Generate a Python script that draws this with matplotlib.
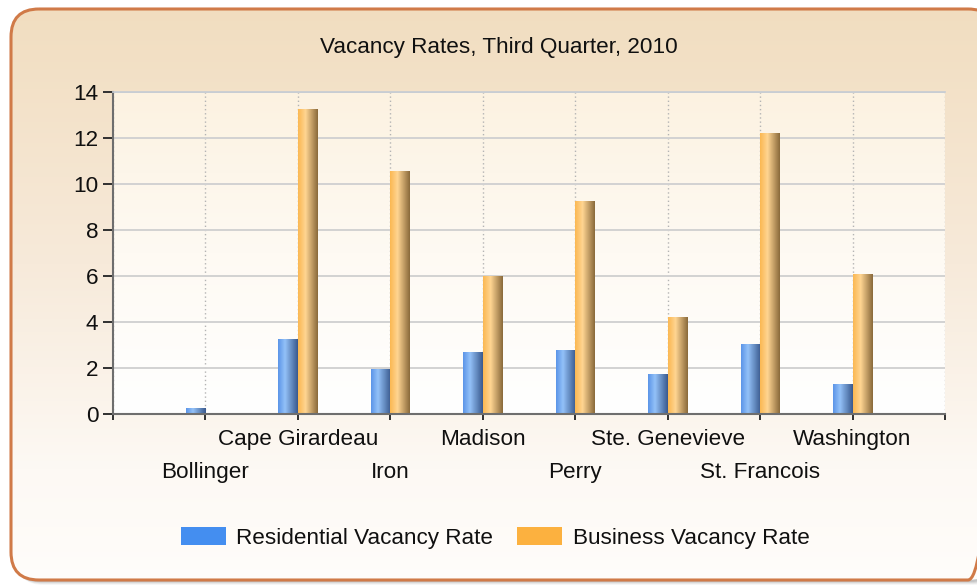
import numpy as np
import matplotlib
matplotlib.use('Agg')
import matplotlib.pyplot as plt
from matplotlib.patches import FancyBboxPatch, Patch
from matplotlib.colors import LinearSegmentedColormap

categories = ['Bollinger', 'Cape Girardeau', 'Iron', 'Madison', 'Perry',
              'Ste. Genevieve', 'St. Francois', 'Washington']
residential = [0.25, 3.25, 1.95, 2.7, 2.8, 1.75, 3.05, 1.3]
business = [0.0, 13.25, 10.55, 6.0, 9.25, 4.2, 12.2, 6.1]
series_names = ['Residential Vacancy Rate', 'Business Vacancy Rate']
title = 'Vacancy Rates, Third Quarter, 2010'
yticks = [0, 2, 4, 6, 8, 10, 12, 14]

plt.rcParams['font.family'] = ['Liberation Sans', 'DejaVu Sans']
FS = 16.2
TXT = '#101010'

W, H = 977, 587
fig = plt.figure(figsize=(W / 100, H / 100), dpi=100, facecolor='white')


def vgrad(colors, n=256):
    cmap = LinearSegmentedColormap.from_list('g', colors)
    return cmap(np.linspace(0, 1, n))[:, None, :3]


# ---- background frame ----
bg = fig.add_axes([0, 0, 1, 1], zorder=0)
bg.set_xlim(0, W)
bg.set_ylim(H, 0)
bg.axis('off')
for off, a in [(5, 0.06), (4, 0.10), (3, 0.14), (2, 0.18)]:
    bg.add_patch(FancyBboxPatch((11 + off, 9 + off), 985, 571,
                                boxstyle='round,pad=0,rounding_size=28',
                                fc='#707070', ec='none', alpha=a))
frame = FancyBboxPatch((11, 9), 985, 571, boxstyle='round,pad=0,rounding_size=28',
                       fc='none', ec='#d07a48', lw=2.2, zorder=3)
fill = FancyBboxPatch((11, 9), 985, 571, boxstyle='round,pad=0,rounding_size=28',
                      fc='none', ec='none')
bg.add_patch(fill)
im = bg.imshow(vgrad([(0, '#f1ddbf'), (0.45, '#f7eada'), (0.8, '#fdf9f4'), (1, '#fffdfb')]),
               extent=[0, W, H, 0], aspect='auto', zorder=1)
im.set_clip_path(fill)
bg.add_patch(frame)

# ---- main axes ----
ax = fig.add_axes([113 / W, 1 - 414 / H, 832 / W, 322 / H], zorder=2)
ax.patch.set_visible(False)
ax.imshow(vgrad(['#fcf2e1', '#fefaf3', '#ffffff']), extent=[0, 1, 0, 1],
          transform=ax.transAxes, aspect='auto', zorder=0)

x = np.arange(1, len(categories) + 1)
bw = 0.21
bars_r = ax.bar(x - bw / 2, residential, bw, color='none', edgecolor='none', zorder=2)
bars_b = ax.bar(x + bw / 2, business, bw, color='none', edgecolor='none', zorder=2)

blue_cols = [(0, '#5c95e8'), (0.35, '#93c1f8'), (1, '#3a5a8e')]
orng_cols = [(0, '#fbb852'), (0.38, '#ffd592'), (1, '#8a6a3b')]


def hgrad(colors, n=64):
    cmap = LinearSegmentedColormap.from_list('h', colors)
    return cmap(np.linspace(0, 1, n))[None, :, :3]


for bars, cols in [(bars_r, blue_cols), (bars_b, orng_cols)]:
    g = hgrad(cols)
    for p in bars:
        h = p.get_height()
        if h <= 0:
            continue
        x0 = p.get_x()
        bi = ax.imshow(g, extent=[x0, x0 + p.get_width(), 0, h], aspect='auto', zorder=2)
        bi.set_clip_path(p)

ax.set_xlim(0, 9)
ax.set_ylim(0, 14)
ax.set_yticks(yticks)
ax.set_yticklabels([str(v) for v in yticks])
ax.set_xticks(np.arange(0, 10))
ax.set_xticklabels([''] + categories + [''])

ax.set_axisbelow(True)
ax.yaxis.grid(True, color='#d2d2d2', lw=1.4)
ax.xaxis.grid(True, color='#b4b4b4', lw=1.0, linestyle=(0, (1, 2)))

for s in ['left', 'bottom']:
    ax.spines[s].set_color('#6e6e6e')
    ax.spines[s].set_linewidth(1.5)
ax.spines['top'].set_color('#c6ccd4')
ax.spines['top'].set_linewidth(1.2)
ax.spines['right'].set_visible(False)

ax.tick_params(axis='y', direction='out', length=7.5, width=1.4, color='#303030',
               labelsize=FS, labelcolor=TXT, pad=3)
ax.tick_params(axis='x', direction='out', length=4.5, width=1.4, color='#303030',
               labelsize=FS, labelcolor=TXT)
for i, t in enumerate(ax.xaxis.get_major_ticks()):
    t.set_pad(30 if i in (1, 3, 5, 7) else 6)

# ---- title & legend ----
fig.text(499 / W, 1 - 47 / H, title, ha='center', va='center', fontsize=FS, color=TXT)
handles = [Patch(fc='#448ef0', ec='none'), Patch(fc='#fcb13f', ec='none')]
fig.legend(handles, series_names, loc='center', bbox_to_anchor=(495 / W, 1 - 538 / H),
           ncol=2, frameon=False, fontsize=FS, handlelength=2.0, handleheight=0.8,
           handletextpad=0.45, columnspacing=1.1, labelcolor=TXT)

fig.savefig('out.png', dpi=100, facecolor='white')
